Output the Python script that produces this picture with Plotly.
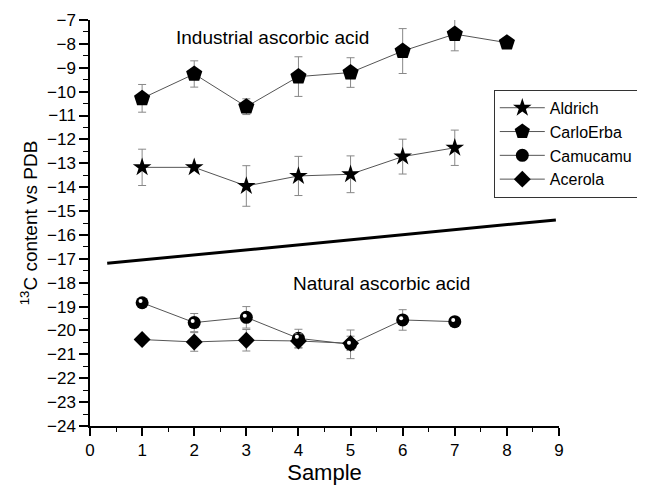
import plotly.graph_objects as go

# ---- data ----
x_aldrich = [1, 2, 3, 4, 5, 6, 7]
y_aldrich = [-13.17, -13.17, -13.95, -13.53, -13.46, -12.72, -12.35]
e_aldrich = [0.76, 0.12, 0.85, 0.82, 0.77, 0.73, 0.74]

x_carlo = [1, 2, 3, 4, 5, 6, 7, 8]
y_carlo = [-10.28, -9.26, -10.63, -9.37, -9.20, -8.30, -7.59, -7.95]
e_carlo = [0.58, 0.55, 0.33, 0.83, 0.62, 0.94, 0.70, 0.10]

x_camu = [1, 2, 3, 4, 5, 6, 7]
y_camu = [-18.84, -19.67, -19.45, -20.33, -20.58, -19.56, -19.63]
e_camu = [0.08, 0.38, 0.45, 0.38, 0.60, 0.43, 0.10]

x_acer = [1, 2, 3, 4, 5]
y_acer = [-20.38, -20.48, -20.41, -20.44, -20.54]
e_acer = [0.08, 0.39, 0.45, 0.30, 0.30]

sep_x = [0.33, 8.94]
sep_y = [-17.19, -15.37]

FONT = "Arial, Liberation Sans, sans-serif"

fig = go.Figure()

def add(name, xs, ys, es, symbol, size):
    fig.add_trace(go.Scatter(
        x=xs, y=ys, name=name, mode="lines+markers",
        line=dict(color="#555555", width=1),
        marker=dict(symbol=symbol, size=size, color="black",
                    line=dict(color="black", width=0)),
        error_y=dict(type="data", array=es, visible=True,
                     color="#888888", thickness=1, width=4),
        cliponaxis=False,
    ))

add("Aldrich", x_aldrich, y_aldrich, e_aldrich, "star", 14)
add("CarloErba", x_carlo, y_carlo, e_carlo, "pentagon", 17)
add("Camucamu", x_camu, y_camu, e_camu, "circle", 13)
add("Acerola", x_acer, y_acer, e_acer, "diamond", 13)

# small white highlight on the Camucamu spheres
fig.add_trace(go.Scatter(
    x=[v - 0.03 for v in x_camu], y=[v + 0.07 for v in y_camu],
    mode="markers", showlegend=False, hoverinfo="skip",
    marker=dict(symbol="circle", size=4, color="white"),
    cliponaxis=False,
))

fig.add_trace(go.Scatter(
    x=sep_x, y=sep_y, mode="lines", showlegend=False,
    line=dict(color="black", width=3), hoverinfo="skip",
))

fig.add_annotation(x=3.51, y=-7.75, xref="x", yref="y",
                   text="Industrial ascorbic acid", showarrow=False,
                   font=dict(family=FONT, size=19, color="black"))
fig.add_annotation(x=5.6, y=-18.05, xref="x", yref="y",
                   text="Natural ascorbic acid", showarrow=False,
                   font=dict(family=FONT, size=19, color="black"))

fig.update_layout(
    width=637, height=478,
    margin=dict(l=82, r=86, t=12, b=60, autoexpand=False),
    paper_bgcolor="white", plot_bgcolor="white",
    font=dict(family=FONT, size=17, color="black"),
    legend=dict(x=0.861, y=0.828, xanchor="left", yanchor="top",
                bgcolor="white", bordercolor="#333333", borderwidth=1,
                font=dict(family=FONT, size=16, color="black"),
                itemwidth=45, tracegroupgap=0),
    xaxis=dict(range=[0, 9], dtick=1, tick0=0,
               showline=True, linecolor="black", linewidth=1.5,
               ticks="outside", ticklen=8, tickwidth=1.5, tickcolor="black",
               minor=dict(dtick=0.5, ticks="outside", ticklen=4,
                          tickcolor="black", tickwidth=1.2),
               showgrid=False, zeroline=False,
               title=dict(text="Sample", font=dict(size=22), standoff=0),
               tickfont=dict(size=17)),
    yaxis=dict(range=[-24, -7], dtick=1, tick0=-24,
               showline=True, linecolor="black", linewidth=1.5,
               ticks="outside", ticklen=9, tickwidth=1.5, tickcolor="black",
               minor=dict(dtick=0.5, ticks="outside", ticklen=5,
                          tickcolor="black", tickwidth=1.2),
               showgrid=False, zeroline=False,
               title=dict(text="<sup>13</sup>C content vs PDB",
                          font=dict(size=19), standoff=4),
               tickfont=dict(size=17)),
)

fig.write_html("out.html")
